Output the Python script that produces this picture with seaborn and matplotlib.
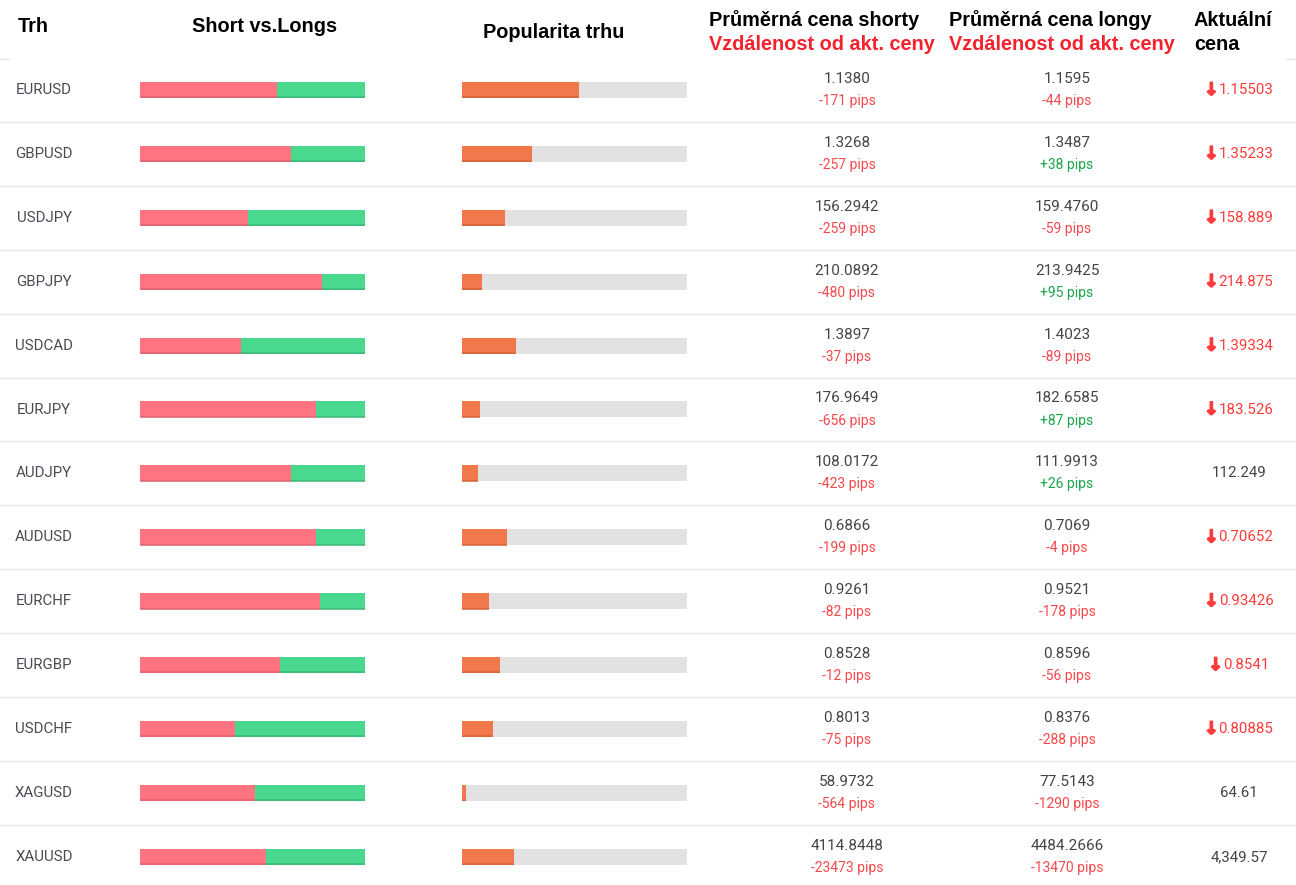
import numpy as np
import pandas as pd
import seaborn as sns
import matplotlib.pyplot as plt
import matplotlib.patheffects as pe

pairs = ["EURUSD", "GBPUSD", "USDJPY", "GBPJPY", "USDCAD", "EURJPY", "AUDJPY",
         "AUDUSD", "EURCHF", "EURGBP", "USDCHF", "XAGUSD", "XAUUSD"]
short_pct = [61, 67, 48, 81, 45, 78, 67, 78, 80, 62, 42, 51, 56]
popularity = [52, 31, 19, 9, 24, 8, 7, 20, 12, 17, 14, 2, 23]
short_price = ["1.1380", "1.3268", "156.2942", "210.0892", "1.3897", "176.9649", "108.0172",
               "0.6866", "0.9261", "0.8528", "0.8013", "58.9732", "4114.8448"]
short_pips = [-171, -257, -259, -480, -37, -656, -423, -199, -82, -12, -75, -564, -23473]
long_price = ["1.1595", "1.3487", "159.4760", "213.9425", "1.4023", "182.6585", "111.9913",
              "0.7069", "0.9521", "0.8596", "0.8376", "77.5143", "4484.2666"]
long_pips = [-44, 38, -59, 95, -89, 87, 26, -4, -178, -56, -288, -1290, -13470]
current = ["1.15503", "1.35233", "158.889", "214.875", "1.39334", "183.526", "112.249",
           "0.70652", "0.93426", "0.8541", "0.80885", "64.61", "4,349.57"]
current_down = [True, True, True, True, True, True, False, True, True, True, True, False, False]

df = pd.DataFrame({"pair": pairs, "short": short_pct, "pop": popularity})
df["total"] = 100

RED = "#ff7480"
GREEN = "#48d98e"
ORANGE = "#f0784a"
GREY = "#e2e2e2"
TXT = "#4a4a55"
PIP_RED = "#f5484c"
PIP_GREEN = "#1aa64a"

W, H = 1296, 885
row0, row_h = 90, 63.9
n = len(pairs)

fig = plt.figure(figsize=(W / 100, H / 100), dpi=100)
ax = fig.add_axes([0, 0, 1, 1])
ax.set_xlim(0, W)
ax.set_ylim(H, 0)
ax.axis("off")

# row separators
for i in range(n - 1):
    y = row0 + row_h / 2 + i * row_h
    ax.plot([0, W], [y, y], color="#e8e8e8", lw=1.0)
ax.plot([0, 9], [59, 59], color="#e8e8e8", lw=1.0)
ax.plot([1286, W], [59, 59], color="#e8e8e8", lw=1.0)

# headers
hfont = dict(family="Liberation Sans", fontweight="bold", fontsize=14.3)
ax.text(18, 26, "Trh", ha="left", va="center", color="black", **hfont)
ax.text(265, 26, "Short vs.Longs", ha="center", va="center", color="black", **hfont)
ax.text(554, 32, "Popularita trhu", ha="center", va="center", color="black", **hfont)
ax.text(709, 20, "Průměrná cena shorty", ha="left", va="center", color="black", **hfont)
ax.text(709, 45, "Vzdálenost od akt. ceny", ha="left", va="center", color="#f5222d", **hfont)
ax.text(949, 20, "Průměrná cena longy", ha="left", va="center", color="black", **hfont)
ax.text(949, 45, "Vzdálenost od akt. ceny", ha="left", va="center", color="#f5222d", **hfont)
ax.text(1194, 20, "Aktuální", ha="left", va="center", color="black", **hfont)
ax.text(1194, 45, "cena", ha="left", va="center", color="black", **hfont)

# row texts
for i in range(n):
    yc = row0 + i * row_h
    ax.text(44, yc, pairs[i], ha="center", va="center", color=TXT,
            family="Roboto", fontsize=10.8)
    ax.text(847, yc - 11, short_price[i], ha="center", va="center", color="#444444",
            family="Roboto", fontsize=11)
    ax.text(847, yc + 11, f"{short_pips[i]:+d} pips", ha="center", va="center",
            color=PIP_GREEN if short_pips[i] > 0 else PIP_RED, family="Roboto", fontsize=10)
    ax.text(1067, yc - 11, long_price[i], ha="center", va="center", color="#444444",
            family="Roboto", fontsize=11)
    ax.text(1067, yc + 11, f"{long_pips[i]:+d} pips", ha="center", va="center",
            color=PIP_GREEN if long_pips[i] > 0 else PIP_RED, family="Roboto", fontsize=10)
    if current_down[i]:
        t = ax.text(1246, yc, current[i], ha="center", va="center", color="#ff3b3b",
                    family="Roboto", fontsize=10.8)
        ax.annotate("↓", xy=(0, 0.5), xycoords=t, xytext=(0, 0), textcoords="offset points",
                    ha="right", va="center", color="#ff3b3b", family="DejaVu Sans",
                    fontweight="bold", fontsize=12.5,
                    path_effects=[pe.withStroke(linewidth=1.2, foreground="#ff3b3b")])
    else:
        ax.text(1239, yc, current[i], ha="center", va="center", color="#444444",
                family="Roboto", fontsize=10.8)

# bar axes, rows mapped to pixel positions
top = row0 - row_h / 2
bottom = row0 + (n - 0.5) * row_h
bar_w = 16 / row_h


def bar_axes(x0):
    a = fig.add_axes([x0 / W, (H - bottom) / H, 225 / W, (bottom - top) / H])
    return a


edge_y = np.arange(n) + bar_w / 2 - 0.01

ax_sl = bar_axes(140)
sns.barplot(data=df, x="total", y="pair", orient="h", color=GREEN, width=bar_w,
            saturation=1, ax=ax_sl)
sns.barplot(data=df, x="short", y="pair", orient="h", color=RED, width=bar_w,
            saturation=1, ax=ax_sl)
ax_sl.hlines(edge_y, df["short"], 100, color="#3cb878", lw=1.1)
ax_sl.hlines(edge_y, 0, df["short"], color="#e0626c", lw=1.1)

ax_pop = bar_axes(462)
sns.barplot(data=df, x="total", y="pair", orient="h", color=GREY, width=bar_w,
            saturation=1, ax=ax_pop)
sns.barplot(data=df, x="pop", y="pair", orient="h", color=ORANGE, width=bar_w,
            saturation=1, ax=ax_pop)
ax_pop.hlines(edge_y, 0, df["pop"], color="#d8643a", lw=1.1)

for a in (ax_sl, ax_pop):
    a.set_xlim(0, 100)
    a.set_ylim(n - 0.5, -0.5)
    a.axis("off")
    a.patch.set_alpha(0)

fig.savefig("out.png", dpi=100)
